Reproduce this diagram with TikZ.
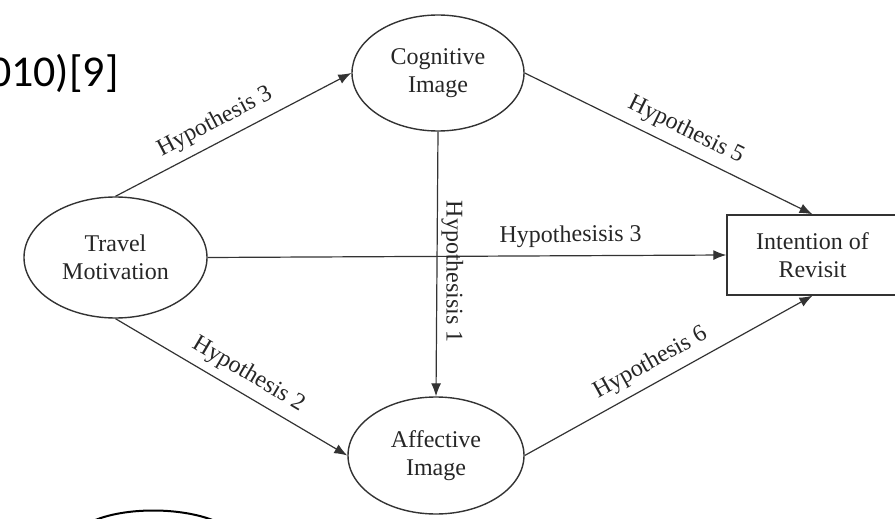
\documentclass[tikz,border=0pt]{standalone}
\usepackage{fontspec}
\setmainfont{Liberation Serif}
\newfontfamily\calib{Carlito}
\usetikzlibrary{arrows.meta,shapes.geometric}
\definecolor{ink}{HTML}{262626}
\definecolor{edge}{HTML}{333333}
\begin{document}
\begin{tikzpicture}[x=0.5pt,y=-0.5pt,
  font=\fontsize{12pt}{14pt}\selectfont,
  concept/.style={ellipse,draw=edge,line width=0.7pt,inner sep=0pt,
    align=center,text=ink},
  outcome/.style={rectangle,draw=edge,line width=0.7pt,inner sep=0pt,
    align=center,text=ink,minimum width=85.5pt,minimum height=40pt},
  link/.style={draw=edge,line width=0.6pt,-{Latex[length=6.5pt,width=5pt]}},
  hyp/.style={text=ink,sloped,above,inner sep=4pt}]
\useasboundingbox (0,0) rectangle (895,519);

% constructs of the model
\node[concept,minimum width=91.5pt,minimum height=60.5pt] (tm) at (115.5,257.5) {Travel\\Motivation};
\node[concept,minimum width=86pt,minimum height=58pt] (cog) at (438,73) {Cognitive\\Image};
\node[concept,minimum width=88pt,minimum height=58.5pt] (aff) at (436,455.5) {Affective\\Image};
\node[outcome] (rev) at (812.5,255) {Intention of\\Revisit};

% hypothesised paths
\draw[link] (tm.north) -- node[hyp,pos=0.46] {Hypothesis 3} (cog.west);
\draw[link] (tm.east) -- node[hyp,pos=0.70] {Hypothesisis 3} (rev.west);
\draw[link] (tm.south) -- node[hyp,pos=0.53] {Hypothesis 2} (aff.west);
\draw[link] (cog.south) -- node[text=ink,rotate=-90,anchor=south,inner sep=2pt,pos=0.53] {Hypothesisis 1} (aff.north);
\draw[link] (cog.east) -- node[hyp,pos=0.53] {Hypothesis 5} (rev.north);
\draw[link] (aff.east) -- node[hyp,pos=0.47] {Hypothesis 6} (rev.south);

% citation fragment and shape edge at the borders
\node[anchor=base east,inner sep=0pt,font=\calib\fontsize{22pt}{26pt}\selectfont] (cite) at (119,87) {010)[9]};
\draw[line width=1pt,black] (93,521) .. controls (125,507) and (181,507) .. (215,521);
\end{tikzpicture}
\end{document}
